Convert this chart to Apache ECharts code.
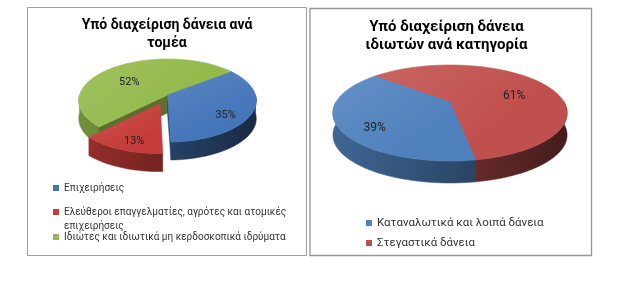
<!DOCTYPE html>
<html><head><meta charset="utf-8">
<script src="https://cdn.jsdelivr.net/npm/echarts/dist/echarts.min.js"></script>
<style>html,body{margin:0;padding:0;background:#fff}#c{width:621px;height:285px}</style>
</head><body><div id="c"></div>
<script>
// ---- data ----
const sectorTitle = 'Υπό διαχείριση δάνεια ανά\nτομέα';
const sectorCategories = ['Επιχειρήσεις', 'Ελεύθεροι επαγγελματίες, αγρότες και ατομικές επιχειρήσεις', 'Ιδιώτες και ιδιωτικά μη κερδοσκοπικά ιδρύματα'];
const sectorValues = [35, 13, 52];
const householdTitle = 'Υπό διαχείριση δάνεια\nιδιωτών ανά κατηγορία';
const householdCategories = ['Καταναλωτικά και λοιπά δάνεια', 'Στεγαστικά δάνεια'];
const householdValues = [39, 61];

// ---- styling / layout ----
const FONT = 'Roboto';
const pies = [
  {cats: sectorCategories, vals: sectorValues, colors: ['#4274b9', '#c43c39', '#94ba4c'], explode: [0, 0.22, 0],
   cx: 167.5, cy: 95, rx: 88, ry: 40.8, p: 0.133, depth: 18, start: 52, labelSize: 11},
  {cats: householdCategories, vals: householdValues, colors: ['#4f81bd', '#c0504d'], explode: [0, 0],
   cx: 450, cy: 102, rx: 114, ry: 45.5, p: 0.229, depth: 22, start: 170, labelSize: 12}
];

const rad = a => a * Math.PI / 180;
function hex(c) { const n = parseInt(c.slice(1), 16); return [n >> 16 & 255, n >> 8 & 255, n & 255]; }
function rgb(a) { return 'rgb(' + a.map(v => Math.max(0, Math.min(255, Math.round(v)))).join(',') + ')'; }
const shade = (c, f) => rgb(hex(c).map(v => v * f));
const lighten = (c, t) => rgb(hex(c).map(v => v + (255 - v) * t));
function proj(pie, u, v) { const f = 1 / (1 - pie.p * v); return [pie.cx + pie.rx * u * f, pie.cy + pie.ry * v * f]; }

function buildSlice(pie, i, value, total, rank) {
  let a0 = pie.start;
  for (let k = 0; k < i; k++) a0 += pie.vals[k] / total * 360;
  const a1 = a0 + value / total * 360, mid = (a0 + a1) / 2;
  const e = pie.explode[i], color = pie.colors[i], d = pie.depth;
  const ou = e * Math.sin(rad(mid)), ov = -e * Math.cos(rad(mid));
  const pt = (ang, r) => proj(pie, ou + r * Math.sin(rad(ang)), ov - r * Math.cos(rad(ang)));
  const arc = (b0, b1) => { const n = Math.max(2, Math.ceil((b1 - b0) / 2)); const out = [];
    for (let k = 0; k <= n; k++) out.push(pt(b0 + (b1 - b0) * k / n, 1)); return out; };
  const C = pt(0, 0), M = pt(mid, 0.5);
  const children = [];
  // radial cut faces
  [a0, a1].forEach(a => {
    const P = pt(a, 1); const dx = P[0] - C[0], dy = P[1] - C[1];
    let n = [dy, -dx];
    if (n[0] * (M[0] - C[0]) + n[1] * (M[1] - C[1]) > 0) n = [-dy, dx];
    if (n[1] > 0) children.push({type: 'polygon', z2: rank * 10 + 1,
      shape: {points: [C, P, [P[0], P[1] + d], [C[0], C[1] + d]]},
      style: {fill: shade(color, 0.6), stroke: shade(color, 0.6), lineWidth: 0.5}});
  });
  // outer wall (near half)
  const wallFill = new echarts.graphic.LinearGradient(pie.cx - pie.rx, 0, pie.cx + pie.rx, 0, [
    {offset: 0, color: shade(color, 0.78)}, {offset: 0.5, color: shade(color, 0.57)}, {offset: 1, color: shade(color, 0.36)}], true);
  for (let k = -1; k <= 2; k++) {
    const lo = Math.max(a0, 90 + 360 * k), hi = Math.min(a1, 270 + 360 * k);
    if (hi > lo) {
      const top = arc(lo, hi);
      const bottom = top.map(q => [q[0], q[1] + d]).reverse();
      children.push({type: 'polygon', z2: rank * 10 + 2, shape: {points: top.concat(bottom)},
        style: {fill: wallFill, stroke: wallFill, lineWidth: 0.5}});
    }
  }
  // top surface
  const topFill = new echarts.graphic.LinearGradient(0, 0, 0.4, 1, [
    {offset: 0, color: lighten(color, 0.12)}, {offset: 1, color: color}]);
  children.push({type: 'polygon', z2: rank * 10 + 3, shape: {points: [C].concat(arc(a0, a1))},
    style: {fill: topFill, stroke: topFill, lineWidth: 0.6}});
  // label
  const L = pt(mid, 0.7);
  children.push({type: 'text', z2: 200, x: L[0], y: L[1] + d * 0.4,
    style: {text: Math.round(value / total * 100) + '%', font: pie.labelSize + 'px ' + FONT, fill: '#222',
      align: 'center', verticalAlign: 'middle'}});
  return {type: 'group', children};
}

const series = [];
pies.forEach(pie => {
  const total = pie.vals.reduce((a, b) => a + b, 0);
  let acc = pie.start;
  const nearness = pie.vals.map(v => { const m = acc + v / total * 180; acc += v / total * 360; return -Math.cos(rad(m)); });
  const order = nearness.map((v, i) => ({i, v})).sort((a, b) => a.v - b.v);
  const rank = []; order.forEach((o, k) => { rank[o.i] = k; });
  pie.vals.forEach((v, i) => {
    series.push({
      type: 'custom', name: pie.cats[i], coordinateSystem: 'none', silent: true, animation: false,
      itemStyle: {color: pie.colors[i]}, color: pie.colors[i],
      data: [v],
      renderItem: (params, api) => buildSlice(pie, i, api.value(0), total, rank[i])
    });
  });
});

const leftText = {fontFamily: FONT, fontSize: 10, color: '#333', lineHeight: 14};
const rightText = {fontFamily: FONT, fontSize: 11.5, color: '#333', lineHeight: 14};
const legendBase = {icon: 'rect', itemWidth: 6, itemHeight: 6, selectedMode: false, padding: 0, orient: 'vertical'};

const option = {
  animation: false,
  graphic: [
    {type: 'rect', silent: true, shape: {x: 27.5, y: 7.5, width: 279, height: 248}, style: {fill: 'none', stroke: '#a0a0a0', lineWidth: 1}},
    {type: 'rect', silent: true, shape: {x: 310, y: 8.5, width: 281.5, height: 247}, style: {fill: 'none', stroke: '#959595', lineWidth: 1.3}},
    {type: 'text', silent: true, x: 167, y: 34, style: {text: sectorTitle, font: 'bold 14px ' + FONT, fill: '#000',
      align: 'center', verticalAlign: 'middle', lineHeight: 18}},
    {type: 'text', silent: true, x: 446.5, y: 36, style: {text: householdTitle, font: 'bold 15px ' + FONT, fill: '#000',
      align: 'center', verticalAlign: 'middle', lineHeight: 18}}
  ],
  legend: [
    Object.assign({}, legendBase, {data: [sectorCategories[0]], left: 53, top: 181, textStyle: leftText}),
    Object.assign({}, legendBase, {data: [sectorCategories[1]], left: 53, top: 205, textStyle: leftText,
      icon: 'path://M0,0h6v6h-6z M0,19.95h0.05v0.05h-0.05z', itemHeight: 20,
      formatter: name => { const j = name.lastIndexOf(' '); return name.slice(0, j) + '\n' + name.slice(j + 1); }}),
    Object.assign({}, legendBase, {data: [sectorCategories[2]], left: 53, top: 230, textStyle: leftText}),
    Object.assign({}, legendBase, {data: householdCategories, left: 366, top: 216, itemGap: 6, textStyle: rightText})
  ],
  series
};
const chart = echarts.init(document.getElementById('c'), null, {renderer: 'canvas'});
chart.setOption(option);
</script></body></html>
